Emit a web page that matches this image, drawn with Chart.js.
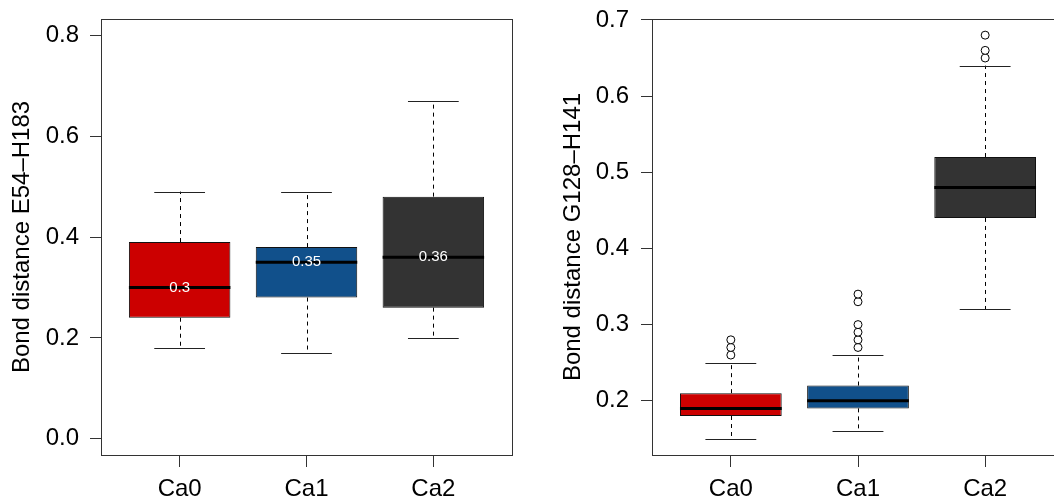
<!DOCTYPE html>
<html>
<head>
<meta charset="utf-8">
<script src="https://cdn.jsdelivr.net/npm/chart.js@4.4.1/dist/chart.umd.min.js"></script>
<style>
  html, body { margin: 0; padding: 0; background: #fff; overflow: hidden; }
  .panel { position: absolute; top: 0; height: 498px; }
  #leftPanel { left: 0; width: 527px; }
  #rightPanel { left: 527px; width: 545px; }
</style>
</head>
<body>
<div class="panel" id="leftPanel"><canvas id="e54Plot" width="527" height="498"></canvas></div>
<div class="panel" id="rightPanel"><canvas id="g128Plot" width="545" height="498"></canvas></div>
<script>
'use strict';

const categories = ["Ca0", "Ca1", "Ca2"];
const boxColors = ["#cc0000", "#11508b", "#333333"];

// E54-H183 bond distance
const e54Lower = [0.18, 0.17, 0.20];
const e54Q1 = [0.24, 0.28, 0.26];
const e54Median = [0.30, 0.35, 0.36];
const e54Q3 = [0.39, 0.38, 0.48];
const e54Upper = [0.49, 0.49, 0.67];
const e54Outliers = [[], [], []];
const e54Ticks = [0.0, 0.2, 0.4, 0.6, 0.8];

// G128-H141 bond distance
const g128Lower = [0.15, 0.16, 0.32];
const g128Q1 = [0.18, 0.19, 0.44];
const g128Median = [0.19, 0.20, 0.48];
const g128Q3 = [0.21, 0.22, 0.52];
const g128Upper = [0.25, 0.26, 0.64];
const g128Outliers = [
    [0.26, 0.27, 0.28],
    [0.27, 0.28, 0.29, 0.30, 0.33, 0.34],
    [0.65, 0.66, 0.68],
];
const g128Ticks = [0.2, 0.3, 0.4, 0.5, 0.6, 0.7];

const FONT = "'Liberation Sans', Arial, sans-serif";
const INK = "#333333";

// pads a range by 4% on each side, like base graphics does
function padRange(lo, hi) {
    const d = (hi - lo) * 0.04;
    return [lo - d, hi + d];
}

function noPadding(sc) {
    sc.paddingTop = 0;
    sc.paddingBottom = 0;
    sc.paddingLeft = 0;
    sc.paddingRight = 0;
}

const boxPlotPlugin = {
    id: "boxplot",
    afterDatasetsDraw(chart, args, opts) {
        const { ctx } = chart;
        const x = chart.scales.x;
        const y = chart.scales.y;
        ctx.save();
        categories.forEach((cat, i) => {
            const pos = i + 1;
            const cx = Math.round(x.getPixelForValue(pos)) + 0.5;

            // dashed whiskers
            ctx.strokeStyle = "#000";
            ctx.lineWidth = 1;
            ctx.setLineDash([4, 4]);
            ctx.beginPath();
            ctx.moveTo(cx, y.getPixelForValue(opts.q3[i]));
            ctx.lineTo(cx, y.getPixelForValue(opts.upper[i]));
            ctx.moveTo(cx, y.getPixelForValue(opts.q1[i]));
            ctx.lineTo(cx, y.getPixelForValue(opts.lower[i]));
            ctx.stroke();

            // whisker caps
            ctx.setLineDash([]);
            ctx.strokeStyle = "#222";
            const capL = x.getPixelForValue(pos - 0.2);
            const capR = x.getPixelForValue(pos + 0.2);
            ctx.beginPath();
            [opts.upper[i], opts.lower[i]].forEach(v => {
                const py = Math.round(y.getPixelForValue(v)) + 0.5;
                ctx.moveTo(capL, py);
                ctx.lineTo(capR, py);
            });
            ctx.stroke();

            // median
            const my = y.getPixelForValue(opts.median[i]);
            ctx.strokeStyle = "#000";
            ctx.lineWidth = 3;
            ctx.beginPath();
            ctx.moveTo(x.getPixelForValue(pos - 0.4), my);
            ctx.lineTo(x.getPixelForValue(pos + 0.4), my);
            ctx.stroke();

            if (opts.showLabels) {
                ctx.fillStyle = "#fff";
                ctx.font = "15px " + FONT;
                ctx.textAlign = "center";
                ctx.textBaseline = "middle";
                ctx.fillText(String(opts.median[i]), x.getPixelForValue(pos), my);
            }
        });
        ctx.restore();
    },
    afterDraw(chart) {
        const { ctx, chartArea: a } = chart;
        ctx.save();
        ctx.strokeStyle = INK;
        ctx.lineWidth = 1;
        ctx.strokeRect(Math.round(a.left) + 0.5, Math.round(a.top) + 0.5,
            Math.round(a.right - a.left), Math.round(a.bottom - a.top));
        ctx.restore();
    },
};

function makeBoxChart(id, s) {
    const [yMin, yMax] = padRange(s.limits[0], s.limits[1]);
    const [xMin, xMax] = padRange(0.5, categories.length + 0.5);
    const outlierPoints = [];
    s.outliers.forEach((list, i) => list.forEach(v => outlierPoints.push({ x: i + 1, y: v })));

    return new Chart(document.getElementById(id), {
        type: "bar",
        data: {
            datasets: [
                {
                    type: "bar",
                    data: categories.map((c, i) => ({ x: i + 1, y: [s.q1[i], s.q3[i]] })),
                    backgroundColor: boxColors,
                    borderColor: "#111",
                    borderWidth: 1,
                    borderSkipped: false,
                    barPercentage: 0.8,
                    categoryPercentage: 1,
                },
                {
                    type: "scatter",
                    data: outlierPoints,
                    pointRadius: 4,
                    pointBackgroundColor: "#fff",
                    pointBorderColor: "#000",
                    pointBorderWidth: 1,
                },
            ],
        },
        options: {
            responsive: false,
            animation: false,
            events: [],
            layout: { padding: s.padding },
            plugins: {
                legend: { display: false },
                tooltip: { enabled: false },
                boxplot: {
                    lower: s.lower,
                    q1: s.q1,
                    median: s.median,
                    q3: s.q3,
                    upper: s.upper,
                    showLabels: s.showLabels,
                },
            },
            scales: {
                x: {
                    type: "linear",
                    min: xMin,
                    max: xMax,
                    offset: false,
                    afterBuildTicks: sc => { sc.ticks = categories.map((c, i) => ({ value: i + 1 })); },
                    afterFit: sc => { sc.height = 43; noPadding(sc); },
                    ticks: {
                        callback: v => categories[v - 1],
                        font: { family: FONT, size: 24 },
                        color: "#000",
                        padding: 8,
                        maxRotation: 0,
                        autoSkip: false,
                    },
                    grid: { drawOnChartArea: false, tickLength: 12, color: INK, offset: false },
                    border: { display: false },
                },
                y: {
                    type: "linear",
                    min: yMin,
                    max: yMax,
                    afterBuildTicks: sc => { sc.ticks = s.ticks.map(v => ({ value: v })); },
                    afterFit: sc => { sc.width = s.yWidth; noPadding(sc); },
                    ticks: {
                        callback: v => v.toFixed(1),
                        font: { family: FONT, size: 24 },
                        color: "#000",
                        padding: s.tickPad,
                        autoSkip: false,
                    },
                    grid: { drawOnChartArea: false, tickLength: 11, color: INK },
                    border: { display: false },
                    title: {
                        display: true,
                        text: s.title,
                        font: { family: FONT, size: 24 },
                        color: "#000",
                        padding: { top: s.titlePad, bottom: 0 },
                    },
                },
            },
        },
        plugins: [boxPlotPlugin],
    });
}

makeBoxChart("e54Plot", {
    lower: e54Lower, q1: e54Q1, median: e54Median, q3: e54Q3, upper: e54Upper,
    outliers: e54Outliers, ticks: e54Ticks, limits: [0.0, 0.8],
    title: "Bond distance E54\u2013H183", showLabels: true,
    padding: { left: 0, top: 19, right: 15, bottom: 0 },
    yWidth: 101, tickPad: 11, titlePad: 8,
});

makeBoxChart("g128Plot", {
    lower: g128Lower, q1: g128Q1, median: g128Median, q3: g128Q3, upper: g128Upper,
    outliers: g128Outliers, ticks: g128Ticks, limits: [0.15, 0.68],
    title: "Bond distance G128\u2013H141", showLabels: false,
    padding: { left: 0, top: 19, right: 8, bottom: 0 },
    yWidth: 125, tickPad: 12, titlePad: 32,
});
</script>
</body>
</html>
